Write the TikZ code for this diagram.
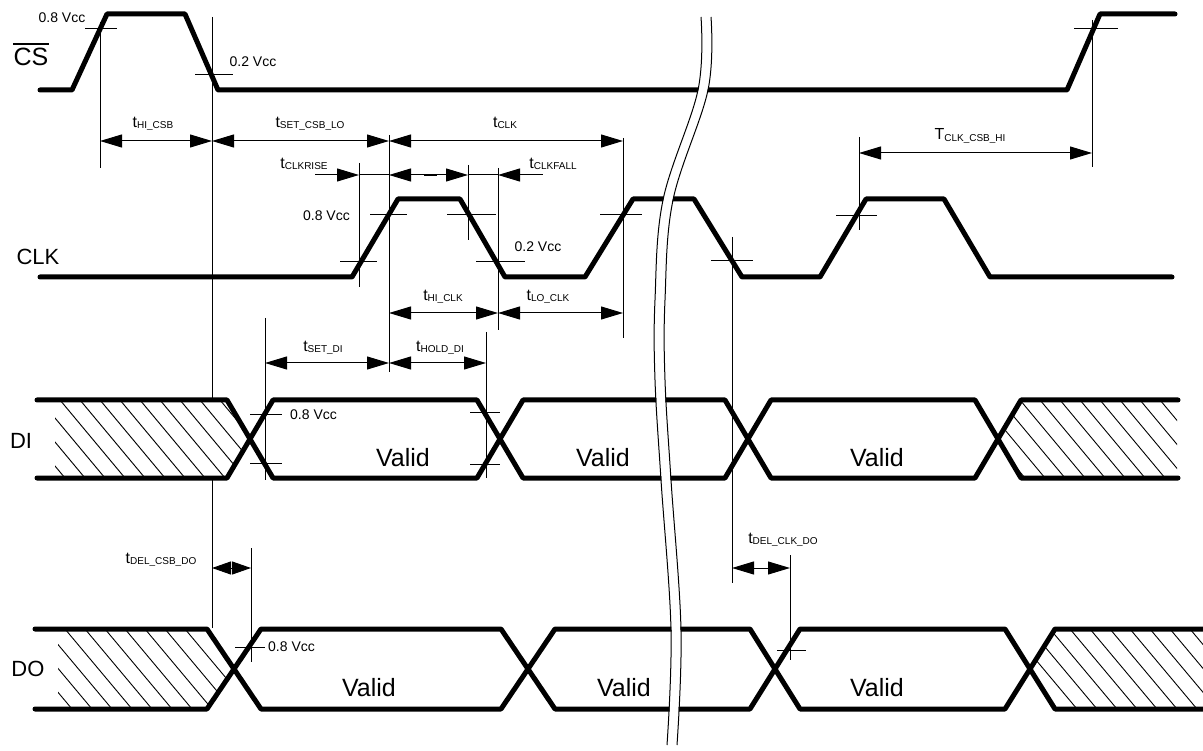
\documentclass[tikz,border=0pt]{standalone}
\usepackage{fontspec}
\setmainfont{Liberation Sans}
\usetikzlibrary{arrows.meta}
\newcommand{\tlab}[2]{{\fontsize{16}{16}\selectfont #1}{\fontsize{10}{10}\selectfont\raisebox{-1.5pt}{#2}}}
\begin{document}
\begin{tikzpicture}[x=1pt,y=-1pt,
  wave/.style={line width=5pt,line cap=round,line join=round},
  fine/.style={line width=1pt},
  hatchl/.style={line width=0.9pt},
  Tri/.tip={Triangle[length=22pt,width=13pt]},
  dim/.style={fine,Tri-Tri},
  lab/.style={inner sep=0pt,font=\fontsize{14}{14}\selectfont},
  sig/.style={inner sep=0pt,font=\fontsize{22}{22}\selectfont},
  val/.style={inner sep=0pt,font=\fontsize{25}{25}\selectfont},
  tl/.style={inner sep=0pt}]
\useasboundingbox[fill=white] (0,0) rectangle (1203,751);

% ---------- hatching ----------
\begin{scope}
\clip (55,402) -- (228,402) -- (250,439) -- (228,476) -- (55,476) -- cycle;
\foreach \i in {0,...,15} \draw[hatchl] ({-20+20*\i},400) -- ({45+20*\i},478);
\end{scope}
\begin{scope}
\clip (998,439) -- (1021,402) -- (1177,402) -- (1177,476) -- (1021,476) -- cycle;
\foreach \i in {0,...,14} \draw[hatchl] ({920+20*\i},400) -- ({985+20*\i},478);
\end{scope}
\begin{scope}
\clip (58,631) -- (206,631) -- (232,669) -- (206,707) -- (58,707) -- cycle;
\foreach \i in {0,...,14} \draw[hatchl] ({-15+20*\i},629) -- ({52+20*\i},709);
\end{scope}
\begin{scope}
\clip (1030,669) -- (1055,631) -- (1203,631) -- (1203,707) -- (1055,707) -- cycle;
\foreach \i in {0,...,14} \draw[hatchl] ({950+20*\i},629) -- ({1017+20*\i},709);
\end{scope}

% ---------- waveforms ----------
\draw[wave] (40,90) -- (72,90) -- (107,14) -- (185,14) -- (218,90) -- (1067,90) -- (1100,14) -- (1175,14);
\draw[wave] (40,277) -- (352,277) -- (398,199) -- (460,199) -- (505,277) -- (585,277) -- (633,199) -- (694,199) -- (742,277) -- (820,277) -- (866,199) -- (944,199) -- (990,277) -- (1172,277);
\draw[wave] (37,400) -- (227,400) -- (273,478) -- (477,478) -- (523,400) -- (725,400) -- (771,478) -- (975,478) -- (1021,400) -- (1178,400);
\draw[wave] (37,478) -- (227,478) -- (273,400) -- (477,400) -- (523,478) -- (725,478) -- (771,400) -- (975,400) -- (1021,478) -- (1178,478);
\draw[wave] (35,629) -- (207,629) -- (261,709) -- (501,709) -- (555,629) -- (750,629) -- (800,709) -- (1005,709) -- (1055,629) -- (1210,629);
\draw[wave] (35,709) -- (207,709) -- (261,629) -- (501,629) -- (555,709) -- (750,709) -- (800,629) -- (1005,629) -- (1055,709) -- (1210,709);

% ---------- vertical reference lines ----------
\draw[fine] (100,22) -- (100,168);
\draw[fine] (212,17) -- (212,400);
\draw[fine] (212,478) -- (212,628);
\draw[fine] (359,163) -- (359,287);
\draw[fine] (389,135) -- (389,372);
\draw[fine] (468,165) -- (468,240);
\draw[fine] (498,168) -- (498,330);
\draw[fine] (623,138) -- (623,338);
\draw[fine] (265,318) -- (265,480);
\draw[fine] (486,332) -- (486,478);
\draw[fine] (732,237) -- (732,583);
\draw[fine] (790,555) -- (790,660);
\draw[fine] (251,548) -- (251,662);
\draw[fine] (859,137) -- (859,230);
\draw[fine] (1092,20) -- (1092,167);

% ---------- level ticks ----------
\draw[fine] (85,29) -- (117,29);
\draw[fine] (195,75) -- (233,75);
\draw[fine] (1074,29) -- (1118,29);
\draw[fine] (340,262) -- (377,262);
\draw[fine] (370,215) -- (407,215);
\draw[fine] (447,215) -- (496,215);
\draw[fine] (476,262) -- (525,262);
\draw[fine] (600,215) -- (642,215);
\draw[fine] (711,261) -- (753,261);
\draw[fine] (836,216) -- (877,216);
\draw[fine] (250,415) -- (282,415);
\draw[fine] (250,463) -- (282,463);
\draw[fine] (470,413) -- (500,413);
\draw[fine] (470,464) -- (500,464);
\draw[fine] (235,647) -- (265,647);
\draw[fine] (777,650) -- (806,650);

% ---------- dimension arrows ----------
\draw[dim] (100,141) -- (212,141);
\draw[dim] (212,141) -- (389,141);
\draw[dim] (389,141) -- (623,141);
\draw[fine,-Tri] (315,175) -- (359,175);
\draw[fine] (359,175) -- (389,175);
\draw[dim] (389,175) -- (468,175);
\draw[line width=2.2pt] (424,175) -- (437,175);
\draw[fine] (468,175) -- (498,175);
\draw[fine,Tri-] (498,175) -- (543,175);
\draw[dim] (389,313) -- (498,313);
\draw[dim] (498,313) -- (623,313);
\draw[dim] (265,363) -- (389,363);
\draw[dim] (389,363) -- (486,363);
\draw[dim] (859,153) -- (1092,153);
\draw[fine,{Triangle[length=19pt,width=13pt]}-{Triangle[length=19pt,width=13pt]}] (212,568) -- (251,568);
\draw[fine,{Triangle[length=22pt,width=13pt]}-{Triangle[length=22pt,width=13pt]}] (732,568) -- (790,568);

% ---------- signal names ----------
\node[sig,font=\fontsize{25}{25}\selectfont] (lcs) at (31,57) {CS};
\draw[line width=1.6pt] ([yshift=4pt]lcs.north west) -- ([yshift=4pt]lcs.north east);
\node[sig] (lclk) at (38,257) {CLK};
\node[sig] (ldi) at (21,441) {DI};
\node[sig] (ldo) at (28,669) {DO};

% ---------- level labels ----------
\node[lab] (v1) at (62,18) {0.8 Vcc};
\node[lab] (v2) at (253,62) {0.2 Vcc};
\node[lab,anchor=east] (v3) at (350,216) {0.8 Vcc};
\node[lab] (v4) at (538,247) {0.2 Vcc};
\node[lab,anchor=west] (v5) at (290,415) {0.8 Vcc};
\node[lab,anchor=west] (v6) at (268,647) {0.8 Vcc};

% ---------- timing labels ----------
\node[tl] (a1) at (153,124) {\tlab{t}{HI\_CSB}};
\node[tl] (a2) at (310,124) {\tlab{t}{SET\_CSB\_LO}};
\node[tl] (a3) at (505,123) {\tlab{t}{CLK}};
\node[tl] (a4) at (304,164) {\tlab{t}{CLKRISE}};
\node[tl] (a5) at (553,164) {\tlab{t}{CLKFALL}};
\node[tl] (a6) at (443,297) {\tlab{t}{HI\_CLK}};
\node[tl] (a7) at (548,297) {\tlab{t}{LO\_CLK}};
\node[tl] (a8) at (323,348) {\tlab{t}{SET\_DI}};
\node[tl] (a9) at (440,348) {\tlab{t}{HOLD\_DI}};
\node[tl] (a10) at (970,136) {\tlab{T}{CLK\_CSB\_HI}};
\node[tl] (a11) at (161,560) {\tlab{t}{DEL\_CSB\_DO}};
\node[tl] (a12) at (783,540) {\tlab{t}{DEL\_CLK\_DO}};

% ---------- Valid ----------
\node[val] (d1) at (403,458) {Valid};
\node[val] (d2) at (603,458) {Valid};
\node[val] (d3) at (877,458) {Valid};
\node[val] (o1) at (369,688) {Valid};
\node[val] (o2) at (624,688) {Valid};
\node[val] (o3) at (877,688) {Valid};

% ---------- break mark ----------
\draw[white,line width=9pt] plot[smooth,tension=0.6] coordinates {(706,17) (703,90) (668,200) (660,300) (660,380) (666,480) (676,630) (672,745)};
\draw[fine] plot[smooth,tension=0.6] coordinates {(701,17) (698,90) (663,200) (655,300) (655,380) (661,480) (671,630) (667,745)};
\draw[fine] plot[smooth,tension=0.6] coordinates {(711,17) (708,90) (673,200) (665,300) (665,380) (671,480) (681,630) (677,745)};
\end{tikzpicture}
\end{document}
